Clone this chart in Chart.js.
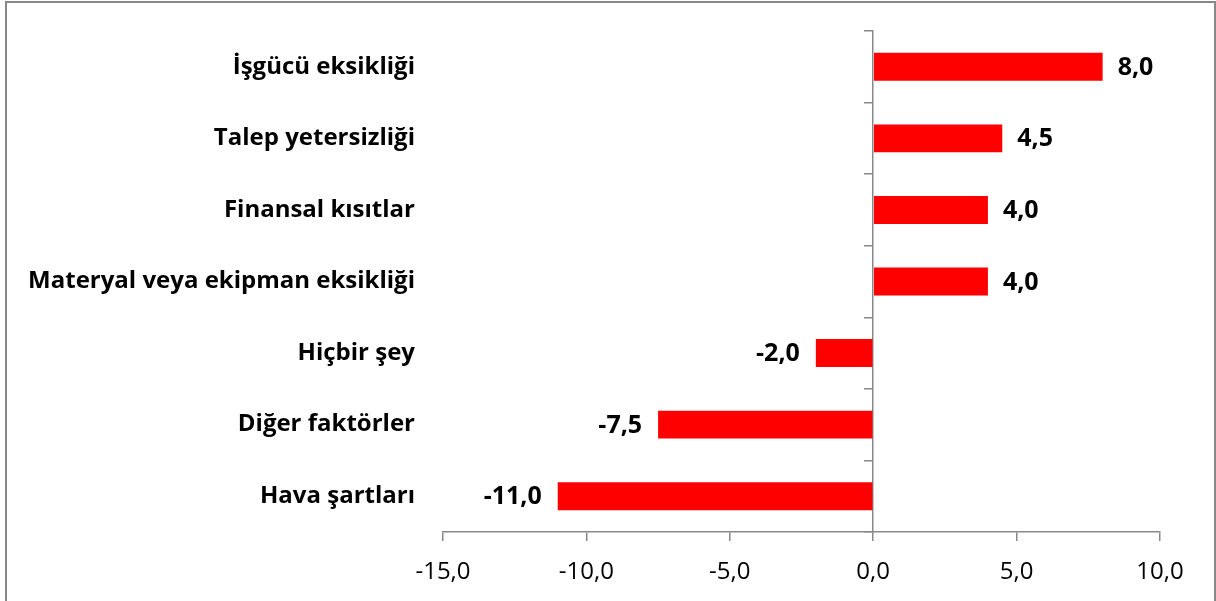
<!DOCTYPE html>
<html>
<head>
<meta charset="utf-8">
<script src="https://cdn.jsdelivr.net/npm/chart.js@4/dist/chart.umd.min.js"></script>
<style>
  body { margin: 0; background: #fff; }
  #wrap { width: 1216px; height: 601px; }
</style>
</head>
<body>
<div id="wrap"><canvas id="chart" width="1216" height="601"></canvas></div>
<script>
const categories = ["İşgücü eksikliği", "Talep yetersizliği", "Finansal kısıtlar",
    "Materyal veya ekipman eksikliği", "Hiçbir şey", "Diğer faktörler", "Hava şartları"]
const values = [8.0, 4.5, 4.0, 4.0, -2.0, -7.5, -11.0]
const xTicks = [-15, -10, -5, 0, 5, 10]

const fmt = v => v.toFixed(1).replace(".", ",")
const FONT = "'Open Sans'"

// frame round the whole picture
const framePlugin = {
    id: "frame",
    beforeDraw(chart) {
        const c = chart.ctx
        c.save()
        c.strokeStyle = "#888"
        c.lineWidth = 2
        c.strokeRect(6, 2, 1209, 640)
        c.restore()
    }
}

// value labels next to the bar ends
const valueLabels = {
    id: "valueLabels",
    afterDatasetsDraw(chart) {
        const c = chart.ctx
        const meta = chart.getDatasetMeta(0)
        c.save()
        c.font = "bold 25px " + FONT
        c.fillStyle = "#000"
        c.textBaseline = "middle"
        meta.data.forEach((bar, i) => {
            const v = values[i]
            if (v >= 0) {
                c.textAlign = "left"
                c.fillText(fmt(v), bar.x + 15, bar.y + 1)
            } else {
                c.textAlign = "right"
                c.fillText(fmt(v), bar.x - 16, bar.y + 1)
            }
        })
        c.restore()
    }
}

new Chart(document.getElementById("chart"), {
    type: "bar",
    data: {
        labels: categories,
        datasets: [{
            data: values,
            backgroundColor: "#ff0000",
            borderWidth: 0,
            barPercentage: 0.39,
            categoryPercentage: 1
        }]
    },
    plugins: [framePlugin, valueLabels],
    options: {
        indexAxis: "y",
        responsive: false,
        animation: false,
        layout: { padding: { top: 31, right: 56, left: 0, bottom: 0 } },
        plugins: { legend: { display: false }, tooltip: { enabled: false } },
        scales: {
            x: {
                min: -15, max: 10,
                afterBuildTicks: s => { s.ticks = xTicks.map(v => ({ value: v })) },
                afterFit: s => { s.height = 69 },
                border: { display: true, color: "#888", width: 1.5 },
                grid: { drawOnChartArea: false, drawTicks: true, tickLength: 9, color: "#888", lineWidth: 1.5 },
                ticks: {
                    padding: 17,
                    color: "#000",
                    font: { family: FONT, size: 24 },
                    callback: v => fmt(v)
                }
            },
            y: {
                afterFit: s => { s.width = 443; s.paddingTop = 0; s.paddingBottom = 0 },
                border: { display: false },
                grid: { display: false },
                ticks: {
                    padding: 20,
                    color: "#000",
                    font: { family: FONT, size: 24, weight: "bold" }
                }
            },
            y2: {
                type: "category",
                axis: "y",
                position: { x: 0 },
                offset: true,
                afterFit: s => { s.paddingTop = 0; s.paddingBottom = 0 },
                border: { display: true, color: "#888", width: 1.5 },
                grid: { offset: true, drawOnChartArea: false, drawTicks: true, tickLength: 8, color: "#888", lineWidth: 1.5 },
                ticks: { display: false }
            }
        }
    }
})
</script>
</body>
</html>
